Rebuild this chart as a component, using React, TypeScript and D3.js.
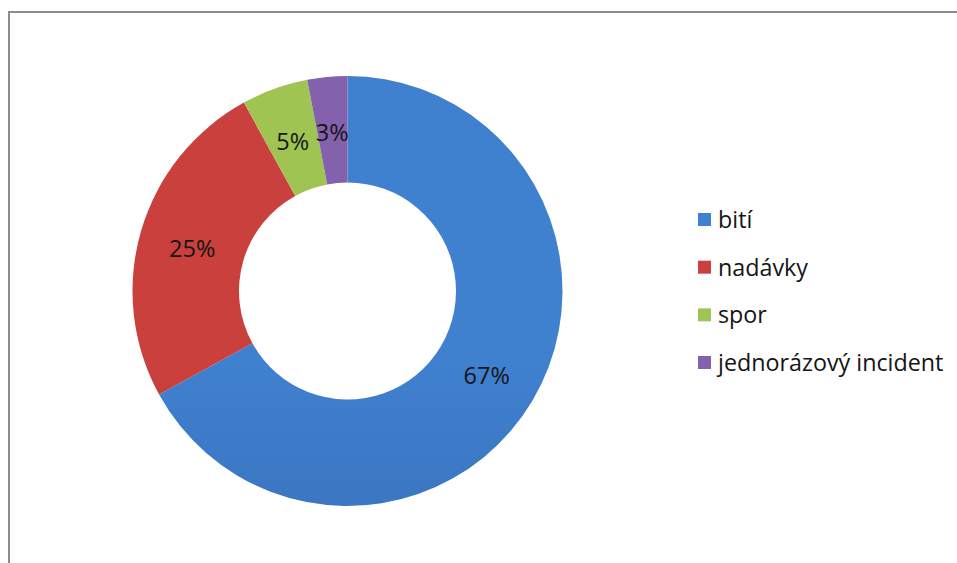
import React, { useEffect, useRef } from "react";
import * as d3 from "d3";

const categories = ["bití", "nadávky", "spor", "jednorázový incident"];
const values = [67, 25, 5, 3];
const colorsTop = ["#3f80cf", "#c9403c", "#a0c451", "#8361ad"];
const colorsBottom = ["#3362a6", "#a8322f", "#86a63f", "#68498e"];

const W = 957;
const H = 563;
const FONT = "'Open Sans', Lato, sans-serif";

export default function App() {
  const ref = useRef<SVGSVGElement>(null);

  useEffect(() => {
    const svg = d3.select(ref.current);
    svg.selectAll("*").remove();

    svg.append("rect").attr("width", W).attr("height", H).attr("fill", "#ffffff");
    svg
      .append("rect")
      .attr("x", 9)
      .attr("y", 12)
      .attr("width", W + 20)
      .attr("height", H + 20)
      .attr("fill", "none")
      .attr("stroke", "#8c8c8c")
      .attr("stroke-width", 2);

    const defs = svg.append("defs");
    categories.forEach((_, i) => {
      const g = defs
        .append("linearGradient")
        .attr("id", `grad${i}`)
        .attr("gradientUnits", "userSpaceOnUse")
        .attr("x1", 0)
        .attr("y1", 76)
        .attr("x2", 0)
        .attr("y2", 506);
      g.append("stop").attr("offset", "0%").attr("stop-color", colorsTop[i]);
      g.append("stop").attr("offset", "100%").attr("stop-color", colorsBottom[i]);
    });

    const cx = 347.5;
    const cy = 291;
    const rOuter = 215;
    const rInner = 108.5;

    const pie = d3.pie<number>().sort(null).value((d) => d);
    const arcs = pie(values);
    const arc = d3.arc<d3.PieArcDatum<number>>().innerRadius(rInner).outerRadius(rOuter);
    const labelArc = d3
      .arc<d3.PieArcDatum<number>>()
      .innerRadius((rInner + rOuter) / 2)
      .outerRadius((rInner + rOuter) / 2);

    const total = d3.sum(values);
    const g = svg.append("g").attr("transform", `translate(${cx},${cy})`);
    g.selectAll("path")
      .data(arcs)
      .join("path")
      .attr("d", arc)
      .attr("fill", (_, i) => `url(#grad${i})`);

    g.selectAll("text")
      .data(arcs)
      .join("text")
      .attr("transform", (d) => {
        const [x, y] = labelArc.centroid(d);
        return `translate(${x},${y + 2})`;
      })
      .attr("text-anchor", "middle")
      .attr("dominant-baseline", "central")
      .attr("font-family", FONT)
      .attr("font-size", 23.5)
      .attr("fill", "#151515")
      .text((d) => `${Math.round((d.value / total) * 100)}%`);

    const legend = svg.append("g").attr("transform", "translate(698,219)");
    const rowY = d3.scalePoint<string>().domain(categories).range([0, 143]);
    const items = legend
      .selectAll("g")
      .data(categories)
      .join("g")
      .attr("transform", (d) => `translate(0,${rowY(d)})`);
    items
      .append("rect")
      .attr("x", 0)
      .attr("y", -6)
      .attr("width", 13)
      .attr("height", 13)
      .attr("fill", (_, i) => colorsTop[i]);
    items
      .append("text")
      .attr("x", 20)
      .attr("y", 0)
      .attr("dominant-baseline", "central")
      .attr("font-family", FONT)
      .attr("font-size", 23.3)
      .attr("fill", "#151515")
      .text((d) => d);
  }, []);

  return (
    <svg
      ref={ref}
      width={W}
      height={H}
      style={{ position: "fixed", left: 0, top: 0, display: "block" }}
    />
  );
}
